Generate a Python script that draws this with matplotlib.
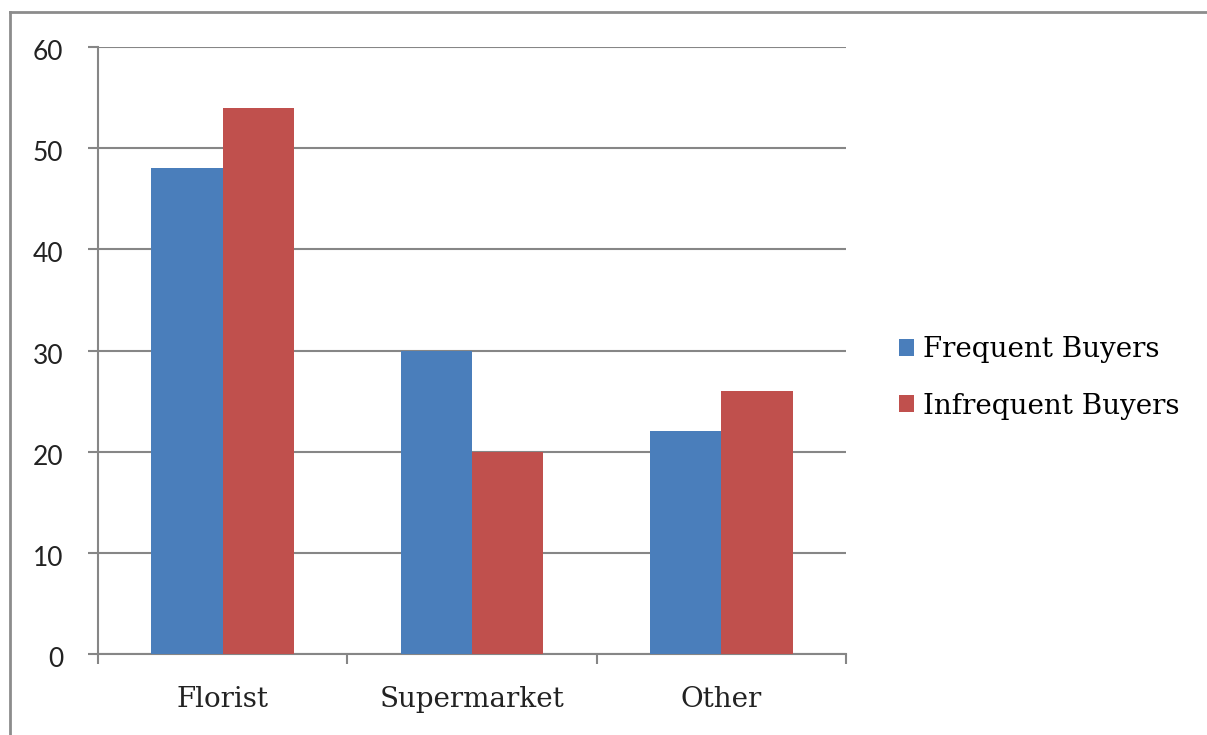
import matplotlib
matplotlib.use("Agg")
import matplotlib.pyplot as plt
import matplotlib.transforms as mtransforms
import numpy as np
from matplotlib.lines import Line2D

categories = ["Florist", "Supermarket", "Other"]
series_names = ["Frequent Buyers", "Infrequent Buyers"]
frequent = [48, 30, 22]
infrequent = [54, 20, 26]
yticks = [0, 10, 20, 30, 40, 50, 60]

blue = "#4A7EBB"
red = "#C0504D"
gray = "#868686"

W, H = 1207, 735
fig = plt.figure(figsize=(W / 100, H / 100), dpi=100)
ax = fig.add_axes([98 / W, 1 - 654 / H, (846 - 98) / W, (654 - 47) / H])

x = np.arange(len(categories))
bw = 1 / 3.5
b1 = ax.bar(x - bw / 2, frequent, bw, color=blue, label=series_names[0], zorder=3)
b2 = ax.bar(x + bw / 2, infrequent, bw, color=red, label=series_names[1], zorder=3)

ax.set_xlim(-0.5, 2.5)
ax.set_ylim(0, 60)
ax.set_yticks(yticks)
ax.set_yticklabels([str(v) for v in yticks], fontfamily="Lato", fontsize=19, color="#222222")
ax.yaxis.grid(True, color=gray, linewidth=1.5, zorder=0)
ax.set_axisbelow(True)

ax.set_xticks([-0.5, 0.5, 1.5, 2.5])
ax.set_xticklabels([])
ax.set_xticks(x, minor=True)
ax.set_xticklabels(categories, minor=True, fontfamily="DejaVu Serif", fontsize=20, color="#222222")
ax.tick_params(axis="x", which="major", length=7, width=1.5, color=gray, direction="out")
ax.tick_params(axis="x", which="minor", length=0, pad=23)
ax.tick_params(axis="y", length=7, width=1.5, color=gray, direction="out", pad=18)

offset = mtransforms.ScaledTranslation(0, -3 / 100, fig.dpi_scale_trans)
for lbl in ax.get_yticklabels():
    lbl.set_transform(lbl.get_transform() + offset)

for s in ["top", "right"]:
    ax.spines[s].set_visible(False)
for s in ["left", "bottom"]:
    ax.spines[s].set_color(gray)
    ax.spines[s].set_linewidth(1.5)

leg = fig.legend(handles=[b1, b2], labels=series_names, loc="center left",
                 bbox_to_anchor=(874 / W, 1 - 378 / H), frameon=False,
                 prop={"family": "DejaVu Serif", "size": 20},
                 handlelength=0.55, handleheight=0.55, handletextpad=0.3,
                 labelspacing=1.05)

# outer frame (top and left edges)
fig.add_artist(Line2D([10 / W, 1.0], [1 - 12 / H, 1 - 12 / H], transform=fig.transFigure,
                      color="#8C8C8C", linewidth=2))
fig.add_artist(Line2D([10 / W, 10 / W], [0, 1 - 12 / H], transform=fig.transFigure,
                      color="#8C8C8C", linewidth=2))

fig.savefig("out.png", dpi=100)
